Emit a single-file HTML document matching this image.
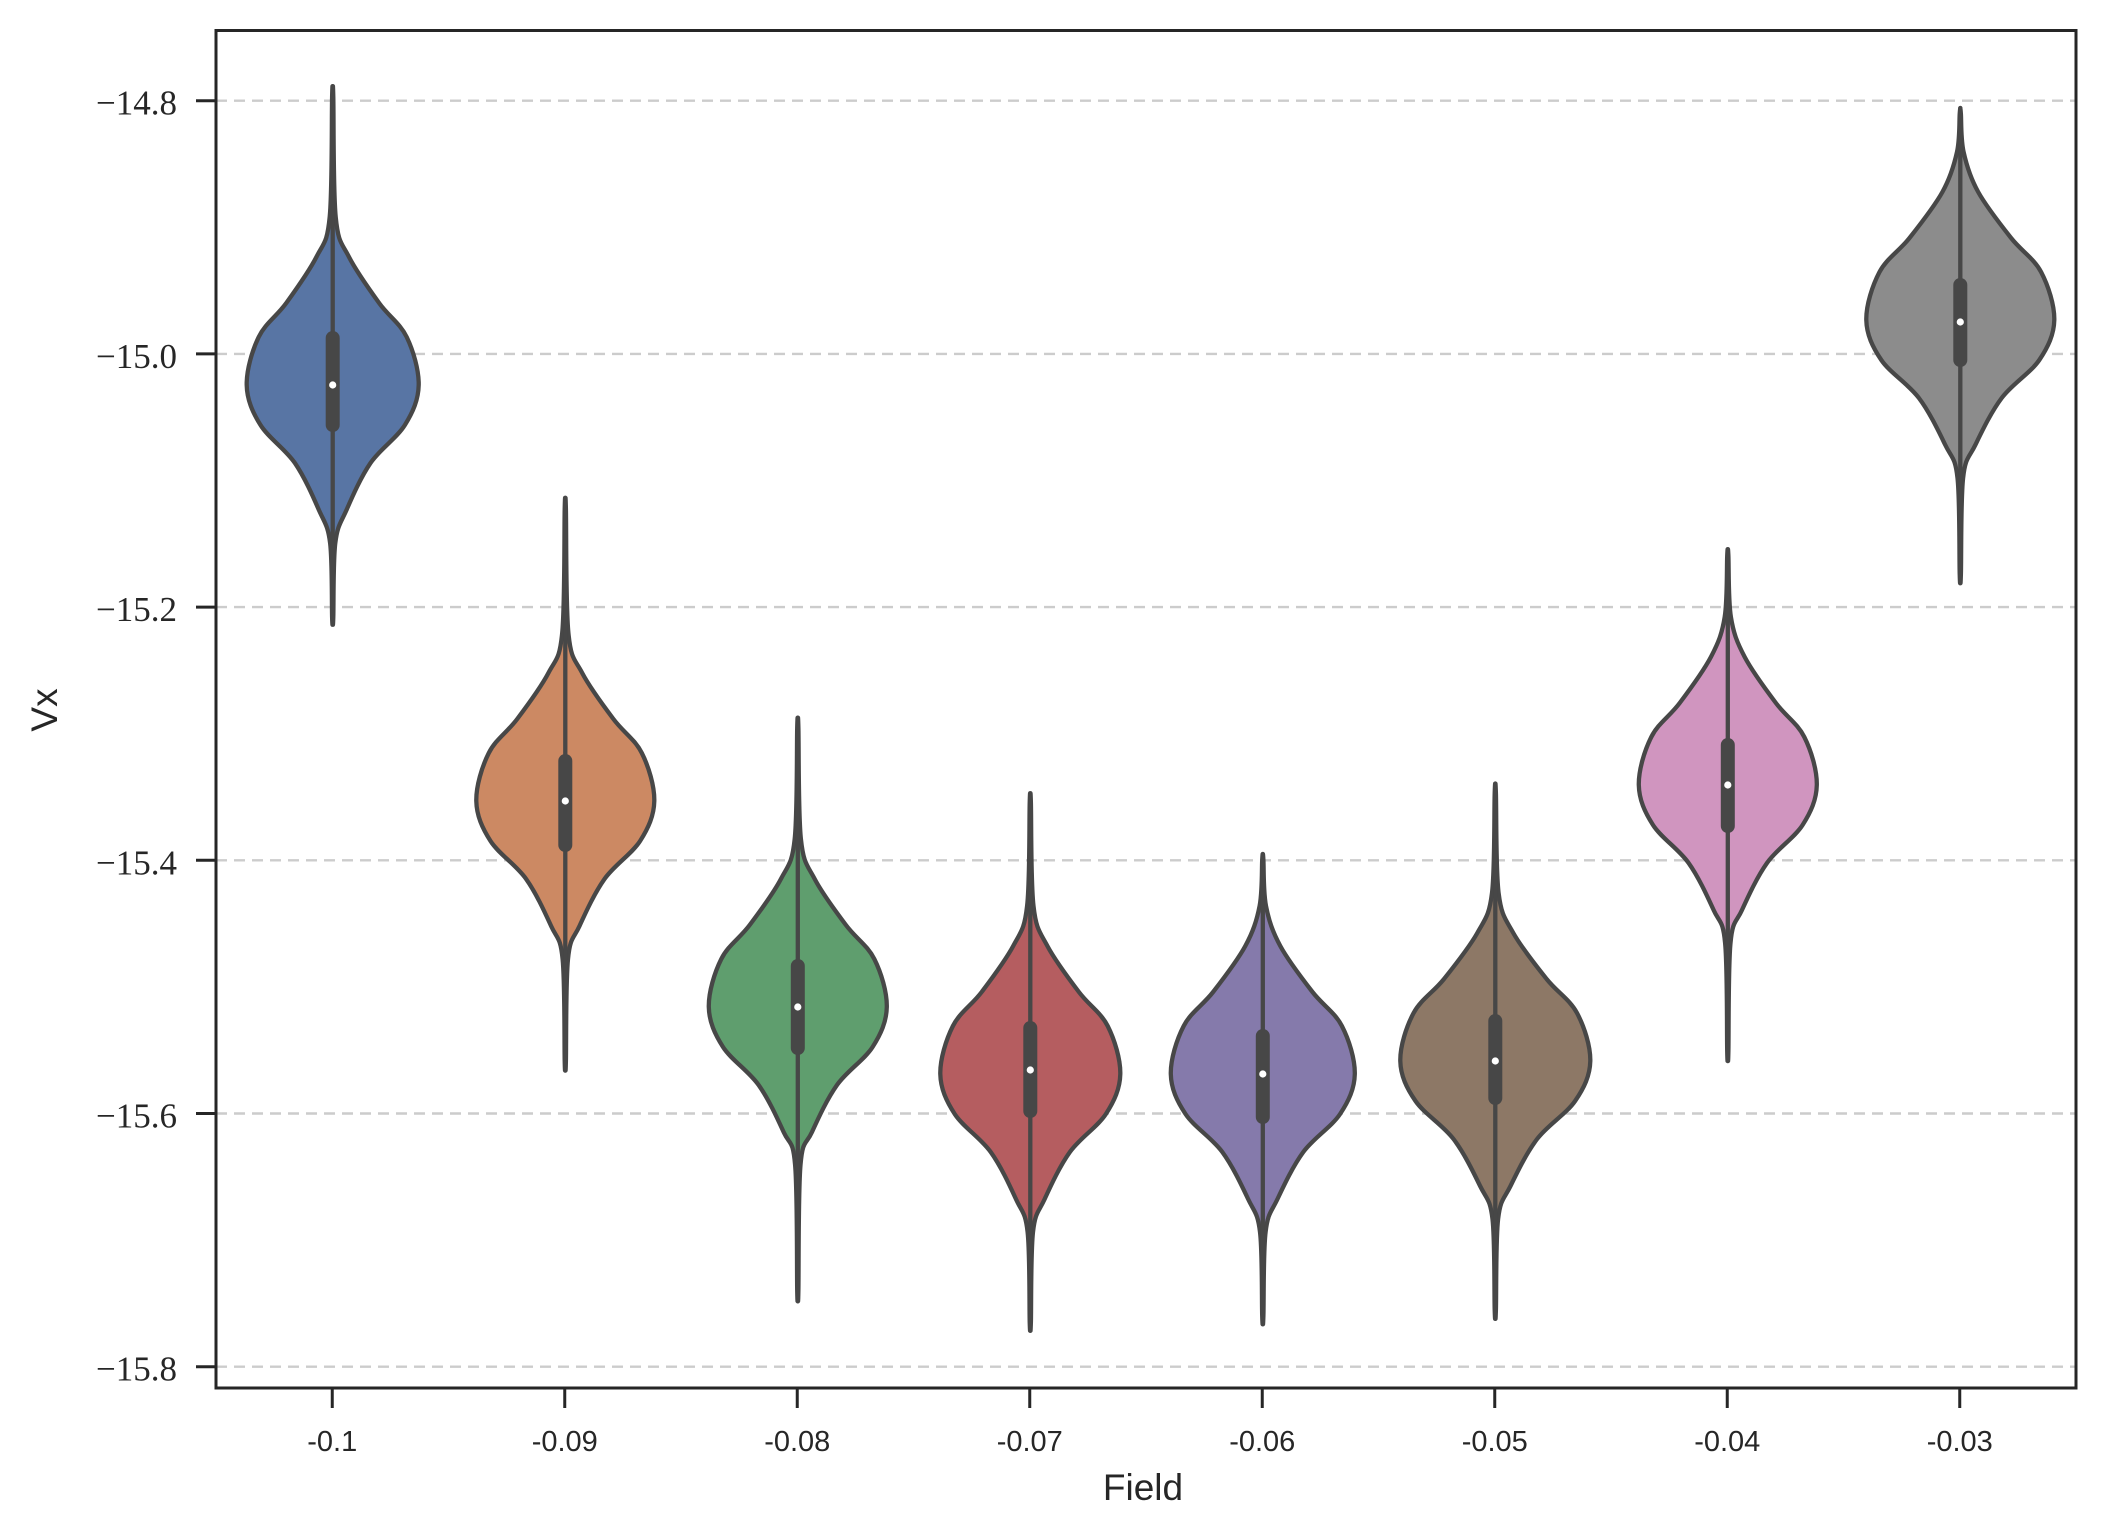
<!DOCTYPE html>
<html><head><meta charset="utf-8"><style>
html,body{margin:0;padding:0;background:#fff;}
svg{display:block;}
</style></head><body>
<svg id="s" width="2105" height="1538" viewBox="0 0 2105 1538" xmlns="http://www.w3.org/2000/svg">
<rect width="2105" height="1538" fill="#fff"/>
<g id="grid" stroke="#cccccc" stroke-width="2.4" stroke-dasharray="11,7"></g>
<g id="vio"></g>
<rect x="216" y="30.5" width="1860" height="1357.5" fill="none" stroke="#262626" stroke-width="3"/>
<g id="ticks" stroke="#262626" stroke-width="3"></g>
<g id="ylab" font-family="Liberation Serif, serif" font-size="35" fill="#262626" text-anchor="end"></g>
<g id="xlab" font-family="Liberation Sans, sans-serif" font-size="29" fill="#262626" text-anchor="middle"></g>
<text x="1143" y="1500" font-family="Liberation Sans, sans-serif" font-size="37" fill="#262626" text-anchor="middle">Field</text>
<text transform="translate(57,710) rotate(-90)" font-family="Liberation Sans, sans-serif" font-size="37" fill="#262626" text-anchor="middle">Vx</text>
</svg>
<script>
var NS="http://www.w3.org/2000/svg";
function el(p,t,a){var e=document.createElementNS(NS,t);for(var k in a)e.setAttribute(k,a[k]);document.getElementById(p).appendChild(e);return e;}
var vals=["\u221214.8","\u221215.0","\u221215.2","\u221215.4","\u221215.6","\u221215.8"];
for(var i=0;i<6;i++){var y=100.7+i*253.2;
 el("grid","line",{x1:216,x2:2076,y1:y,y2:y});
 el("ticks","line",{x1:196,x2:216,y1:y,y2:y});
 var t=el("ylab","text",{x:177,y:y+14});t.textContent=vals[i];}
var xl=["-0.1","-0.09","-0.08","-0.07","-0.06","-0.05","-0.04","-0.03"];
for(var i=0;i<8;i++){var x=332.25+i*232.5;
 el("ticks","line",{x1:x,x2:x,y1:1388,y2:1408});
 var t=el("xlab","text",{x:x,y:1451});t.textContent=xl[i];}
var V=[
[332.7,91,385,623,385,333,430,86,"#5875a4"],
[565.3,503,801,1067,801,756,850,89,"#cc8963"],
[797.8,722,1007,1296,1007,961,1053,89,"#5f9e6e"],
[1030.3,797,1074,1328,1070,1023,1116,90,"#b55d60"],
[1262.8,854,1074,1322,1074,1031,1122,92,"#857aab"],
[1495.3,787,1061,1316,1061,1016,1103,95,"#8d7866"],
[1727.8,550,785,1057,785,740,831,89,"#d095bf"],
[1960.3,108,320,580,322,280,365,94,"#8c8c8c"]];
var UO=[0,48,82,128,168],UW=[1,.86,.54,.19,.035];
var DO=[0,40,78,125,158],DW=[1,.84,.44,.16,.03];
function cr(pts){var d="M"+pts[0][0]+","+pts[0][1];
 for(var i=0;i<pts.length-1;i++){var p0=pts[Math.max(0,i-1)],p1=pts[i],p2=pts[i+1],p3=pts[Math.min(pts.length-1,i+2)];
  var c1=[p1[0]+(p2[0]-p0[0])/6,p1[1]+(p2[1]-p0[1])/6],c2=[p2[0]-(p3[0]-p1[0])/6,p2[1]-(p3[1]-p1[1])/6];
  d+="C"+c1[0].toFixed(1)+","+c1[1].toFixed(1)+" "+c2[0].toFixed(1)+","+c2[1].toFixed(1)+" "+p2[0].toFixed(1)+","+p2[1].toFixed(1);}
 return d;}
V.forEach(function(v){var cx=v[0],top=v[1],mx=v[2],bot=v[3],hw=v[7];
 var prof=[];prof.push([top,0]);prof.push([top+6,0.6]);
 for(var i=4;i>=1;i--){var y=mx-UO[i];if(y>top+8)prof.push([y,UW[i]*hw]);}
 prof.push([mx,hw]);
 for(var i=1;i<=4;i++){var y=mx+DO[i];if(y<bot-8)prof.push([y,DW[i]*hw]);}
 prof.push([bot-6,0.6]);prof.push([bot,0]);
 var right=prof.map(function(p){return [cx+Math.max(p[1],0),p[0]];});
 var left=prof.slice().reverse().map(function(p){return [cx-Math.max(p[1],0),p[0]];});
 var d=cr(right)+" L"+left[0][0]+","+left[0][1]+cr(left).replace(/^M[^C]*/,"")+"Z";
 el("vio","path",{d:d,fill:v[8],stroke:"#474747","stroke-width":4.3,"stroke-linejoin":"round"});
 el("vio","line",{x1:cx,x2:cx,y1:top,y2:bot,stroke:"#474747","stroke-width":4.3,"stroke-linecap":"round"});
 el("vio","line",{x1:cx,x2:cx,y1:v[5]+5,y2:v[6]-5,stroke:"#474747","stroke-width":14,"stroke-linecap":"round"});
 el("vio","circle",{cx:cx,cy:v[4],r:3.6,fill:"#fff"});
});
</script>
</body></html>
